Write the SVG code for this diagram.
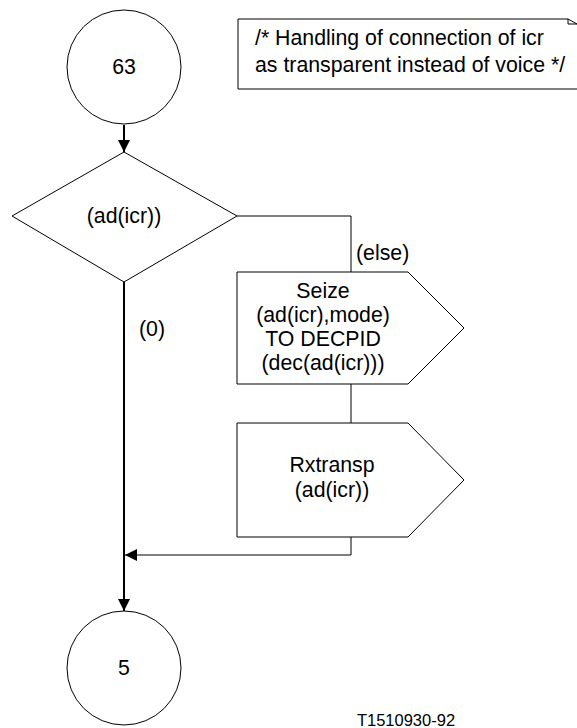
<svg xmlns="http://www.w3.org/2000/svg" width="577" height="728" viewBox="0 0 577 728">
<defs>
<style>
.s{fill:none;stroke:#000;stroke-width:1}
.n{fill:#fff;stroke:#000;stroke-width:1}
.t{font-family:"Liberation Sans",Arial,sans-serif;font-size:21.3px;fill:#000}
.m{text-anchor:middle}
</style>
<marker id="ah" viewBox="0 0 12 12" refX="12" refY="6" markerWidth="12" markerHeight="12" markerUnits="userSpaceOnUse" orient="auto">
<path d="M0,0 L12,6 L0,12 Z" fill="#000"/>
</marker>
</defs>
<rect width="577" height="728" fill="#fff"/>
<g id="connectors">
<line x1="124" y1="125" x2="124" y2="152" stroke="#000" stroke-width="2" marker-end="url(#ah)"/>
<polyline class="s" points="237,216 351,216 351,272"/>
<line class="s" x1="351" y1="384" x2="351" y2="423"/>
<polyline class="s" points="351,537 351,555 125,555" marker-end="url(#ah)"/>
<line x1="124" y1="282" x2="124" y2="611" stroke="#000" stroke-width="2" marker-end="url(#ah)"/>
<text class="t" x="356" y="260">(else)</text>
<text class="t" x="139" y="336">(0)</text>
</g>
<g id="c63">
<circle class="n" cx="124" cy="67" r="57"/>
<text class="t m" x="124" y="74">63</text>
</g>
<g id="note">
<path class="s" d="M577,89 H238 V19 H568 L577,24 M568,19 V24 H577"/>
<text class="t" x="255" y="45">/* Handling of connection of icr</text>
<text class="t" x="255" y="72">as transparent instead of voice */</text>
</g>
<g id="decision">
<polygon class="n" points="12,216 124,152 237,216 124,282"/>
<text class="t m" x="124" y="223">(ad(icr))</text>
</g>
<g id="seize">
<path class="n" d="M237,272 H408 L464,328 L408,384 H237 Z"/>
<text class="t m" x="323" y="298">Seize</text>
<text class="t m" x="323" y="322">(ad(icr),mode)</text>
<text class="t m" x="323" y="346">TO DECPID</text>
<text class="t m" x="323" y="370">(dec(ad(icr)))</text>
</g>
<g id="rxtransp">
<path class="n" d="M237,423 H408 L464,480 L408,537 H237 Z"/>
<text class="t m" x="332" y="472">Rxtransp</text>
<text class="t m" x="332" y="497">(ad(icr))</text>
</g>
<g id="c5">
<circle class="n" cx="124" cy="668" r="57"/>
<text class="t m" x="124" y="675">5</text>
</g>
<text x="406" y="726" font-family="Liberation Sans,Arial,sans-serif" font-size="16.5" text-anchor="middle">T1510930-92</text>
</svg>
